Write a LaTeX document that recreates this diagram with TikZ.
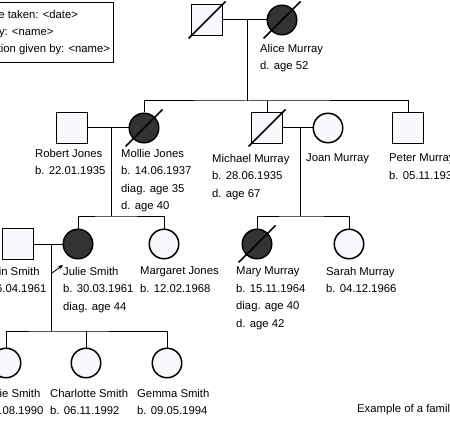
\documentclass[tikz,border=0pt]{standalone}
\usepackage{fontspec}
\setmainfont{Liberation Sans}
\usepackage{tikz}
\usetikzlibrary{arrows.meta}

\definecolor{affected}{HTML}{333333}
\definecolor{unaffected}{HTML}{F8F9FD}

\begin{document}
\begin{tikzpicture}[x=1pt, y=-1pt,
  male/.style={draw, line width=1.5pt, fill=unaffected, minimum size=31pt, inner sep=0pt},
  female/.style={draw, circle, line width=1.5pt, fill=unaffected, minimum size=29.5pt, inner sep=0pt},
  aff/.style={fill=affected},
  link/.style={line width=1pt},
  slash/.style={line width=1.5pt},
  details/.style={anchor=north west, align=left, inner sep=0pt, font=\fontsize{11.3}{17.4}\selectfont},
  infobox/.style={draw, line width=1pt, anchor=north east, align=left, minimum height=60pt,
    inner xsep=3pt, font=\fontsize{11.3}{17.4}\selectfont}]
  \useasboundingbox (0,0) rectangle (450,433);
  \clip (0,0) rectangle (450,433);

  \node[infobox] (info) at (113.5,2) {Pedigree taken: <date>\\Taken by: <name>\\Information given by: <name>};

  % generation I
  \node[male] (grandpa) at (207,20) {};
  \node[female, aff] (alice) at (282,20) {};
  \draw[slash] ([shift={(-18.5,18.5)}]grandpa.center) -- ([shift={(18.5,-18.5)}]grandpa.center);
  \draw[slash] ([shift={(-18.5,18.5)}]alice.center) -- ([shift={(18.5,-18.5)}]alice.center);
  \node[details] (alicetxt) at (260,44) {Alice Murray\\d. age 52};

  % generation II
  \node[male] (robert) at (72,128) {};
  \node[female, aff] (mollie) at (144,128) {};
  \node[male] (michael) at (267,128) {};
  \node[female] (joan) at (328,128) {};
  \node[male] (peter) at (408,128) {};
  \draw[slash] ([shift={(-18.5,18.5)}]mollie.center) -- ([shift={(18.5,-18.5)}]mollie.center);
  \draw[slash] ([shift={(-18.5,18.5)}]michael.center) -- ([shift={(18.5,-18.5)}]michael.center);
  \node[details] (roberttxt) at (35,149) {Robert Jones\\b. 22.01.1935};
  \node[details] (mollietxt) at (121,149) {Mollie Jones\\b. 14.06.1937\\diag. age 35\\d. age 40};
  \node[details] (michaeltxt) at (212,154) {Michael Murray\\b. 28.06.1935\\d. age 67};
  \node[details] (joantxt) at (306,154) {Joan Murray};
  \node[details] (petertxt) at (389,154) {Peter Murray\\b. 05.11.1939};

  % generation III
  \node[male] (martin) at (18,244) {};
  \node[female, aff] (julie) at (78,244) {};
  \node[female] (margaret) at (164,244) {};
  \node[female, aff] (mary) at (257,244) {};
  \node[female] (sarah) at (349,244) {};
  \draw[slash] ([shift={(-18.5,18.5)}]mary.center) -- ([shift={(18.5,-18.5)}]mary.center);
  \coordinate (proband) at (52,273);
  \draw[line width=0.9pt, -{Stealth[length=5pt,width=4.5pt]}] (proband) -- ++(11,-8);
  \node[details] (martintxt) at (-24,267) {Martin Smith\\b. 16.04.1961};
  \node[details] (julietxt) at (63,267) {Julie Smith\\b. 30.03.1961\\diag. age 44};
  \node[details] (margarettxt) at (140,267) {Margaret Jones\\b. 12.02.1968};
  \node[details] (marytxt) at (236,267) {Mary Murray\\b. 15.11.1964\\diag. age 40\\d. age 42};
  \node[details] (sarahtxt) at (326,267) {Sarah Murray\\b. 04.12.1966};

  % generation IV
  \node[female] (sophie) at (6,363) {};
  \node[female] (charlotte) at (86,363) {};
  \node[female] (gemma) at (167,363) {};
  \node[details] (sophietxt) at (-27,389) {Sophie Smith\\b. 21.08.1990};
  \node[details] (charlottetxt) at (50,389) {Charlotte Smith\\b. 06.11.1992};
  \node[details] (gemmatxt) at (137,389) {Gemma Smith\\b. 09.05.1994};

  % lines
  \draw[link] (grandpa) -- (alice);
  \coordinate (sib1) at (247,101);
  \draw[link] (sib1 |- alice) -- (sib1);
  \draw[link] (mollie) |- (sib1) -| (peter);
  \draw[link] (michael) -- (michael |- sib1);

  \draw[link] (robert) -- (mollie);
  \coordinate (sib2) at (111,216);
  \draw[link] (sib2 |- robert) -- (sib2);
  \draw[link] (julie) |- (sib2) -| (margaret);

  \draw[link] (michael) -- (joan);
  \coordinate (sib3) at (300,216);
  \draw[link] (sib3 |- joan) -- (sib3);
  \draw[link] (mary) |- (sib3) -| (sarah);

  \draw[link] (martin) -- (julie);
  \coordinate (sib4) at (51,331);
  \draw[link] (sib4 |- julie) -- (sib4);
  \draw[link] (sophie) |- (sib4) -| (gemma);
  \draw[link] (charlotte) -- (charlotte |- sib4);

  \node[details] (caption) at (357,404) {Example of a family tree};
\end{tikzpicture}
\end{document}
